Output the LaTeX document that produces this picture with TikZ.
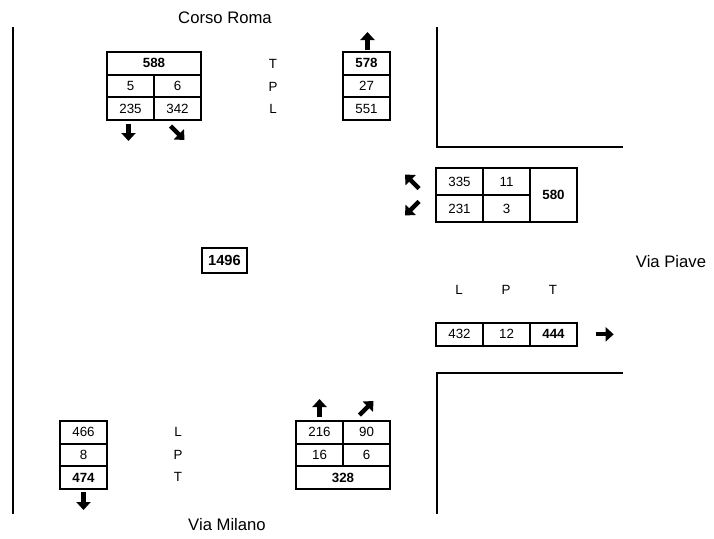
\documentclass[tikz,border=0pt]{standalone}
\usepackage{fontspec}
\setmainfont{Liberation Sans}
\usetikzlibrary{arrows.meta,positioning}

\begin{document}
\begin{tikzpicture}[
    x=0.75pt, y=-0.75pt,
    node distance=0pt,
    cell/.style={draw, line width=1.4pt, outer sep=0pt, inner sep=0pt,
                 minimum width=35.25pt, minimum height=17pt,
                 font=\fontsize{10}{11}\selectfont},
    tot/.style={cell, font=\fontsize{10}{11}\selectfont\bfseries},
    lbl/.style={font=\fontsize{10}{11}\selectfont},
    street/.style={font=\fontsize{12.5}{14}\selectfont},
    road/.style={line width=1.9pt},
    dir/.style={-{Triangle[width=10.5pt,length=6pt]}, line width=3.2pt}
  ]
    \useasboundingbox (0,0) rectangle (714,539);

    % streets
    \draw[road] (13,27) -- (13,514);
    \draw[road] (437,27) -- (437,147) -- (623,147);
    \draw[road] (623,373) -- (437,373) -- (437,514);
    \node[street] (roma) at (225,18) {Corso Roma};
    \node[street] (piave) at (671,262) {Via Piave};
    \node[street] (milano) at (227,525) {Via Milano};

    % Corso Roma, outgoing
    \node[tot, minimum width=70.5pt, anchor=north west] (a1) at (107,52) {588};
    \node[cell, below right=0pt of a1.south west] (a2) {5};
    \node[cell, right=of a2] (a3) {6};
    \node[cell, below=of a2] (a4) {235};
    \node[cell, right=of a4] (a5) {342};
    \draw[dir] ([shift={(-2,4)}]a4.south) -- ++(0,17);
    \draw[dir] ([shift={(-7,6)}]a5.south) -- ++(14,14);

    \node[lbl] (tr) at (273,64) {T};
    \node[lbl] (pr) at (273,87) {P};
    \node[lbl] (lr) at (273,109) {L};

    % Corso Roma, incoming
    \node[tot, anchor=north west] (b1) at (343,52) {578};
    \node[cell, below=of b1] (b2) {27};
    \node[cell, below=of b2] (b3) {551};
    \draw[dir] ([shift={(1,-2)}]b1.north) -- ++(0,-18);

    % Via Piave, incoming
    \node[cell, minimum height=20.25pt, anchor=north west] (c1) at (436,168) {335};
    \node[cell, minimum height=20.25pt, right=of c1] (c2) {11};
    \node[tot, minimum height=40.5pt, below right=0pt of c2.north east] (c3) {580};
    \node[cell, minimum height=20.25pt, below=of c1] (c4) {231};
    \node[cell, minimum height=20.25pt, below=of c2] (c5) {3};
    \draw[dir] ([shift={(-17,7)}]c1.west) -- ++(-14,-14);
    \draw[dir] ([shift={(-17,-7)}]c4.west) -- ++(-14,14);

    % Via Piave, outgoing
    \node[lbl] (lp) at (459,290) {L};
    \node[lbl] (pp) at (506,290) {P};
    \node[lbl] (tp) at (553,290) {T};
    \node[cell, anchor=north west] (d1) at (436,323) {432};
    \node[cell, right=of d1] (d2) {12};
    \node[tot, right=of d2] (d3) {444};
    \draw[dir] ([xshift=14]d3.east) -- ++(18,0);

    % total
    \node[draw, line width=1.4pt, minimum width=33.75pt, minimum height=18.75pt,
          inner sep=0pt, font=\fontsize{11}{13}\selectfont\bfseries] (tot) at (224.5,260.5) {1496};

    % Via Milano, outgoing
    \node[cell, anchor=north west] (e1) at (60,421) {466};
    \node[cell, below=of e1] (e2) {8};
    \node[tot, below=of e2] (e3) {474};
    \draw[dir] ([shift={(0,3)}]e3.south) -- ++(0,18);
    \node[lbl] (lm) at (178,432) {L};
    \node[lbl] (pm) at (178,455) {P};
    \node[lbl] (tm) at (178,477) {T};

    % Via Milano, incoming
    \node[cell, anchor=north west] (f1) at (296,421) {216};
    \node[cell, right=of f1] (f2) {90};
    \node[cell, below=of f1] (f3) {16};
    \node[cell, right=of f3] (f4) {6};
    \node[tot, minimum width=70.5pt, below right=0pt of f3.south west] (f5) {328};
    \draw[dir] ([shift={(0,-4)}]f1.north) -- ++(0,-18);
    \draw[dir] ([shift={(-7,-6)}]f2.north) -- ++(14,-14);
\end{tikzpicture}
\end{document}
